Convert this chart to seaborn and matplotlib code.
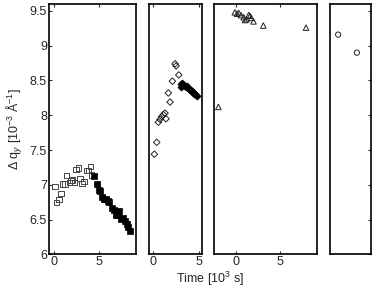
import numpy as np
import pandas as pd
import seaborn as sns
import matplotlib.pyplot as plt

# panel 1: squares (open = growth, filled = decay)
sq_open_t = [0.11, 0.3, 0.56, 0.78, 0.96, 1.22, 1.41, 1.7, 1.89, 2.07, 2.26, 2.44, 2.7, 2.89, 3.1, 3.33, 3.63, 3.85, 4.04, 4.19]
sq_open_q = [6.98, 6.74, 6.79, 6.87, 7.01, 7.01, 7.13, 7.03, 7.06, 7.07, 7.03, 7.22, 7.24, 7.09, 7.02, 7.05, 7.2, 7.2, 7.26, 7.14]
sq_fill_t = [4.48, 4.74, 4.96, 5.15, 5.33, 5.56, 5.78, 5.96, 6.15, 6.41, 6.67, 6.85, 7.07, 7.26, 7.48, 7.7, 7.89, 8.07, 8.26, 8.44]
sq_fill_q = [7.13, 7.01, 6.93, 6.91, 6.82, 6.8, 6.79, 6.77, 6.75, 6.66, 6.64, 6.56, 6.57, 6.62, 6.51, 6.52, 6.48, 6.43, 6.39, 6.33]

# panel 2: diamonds
di_open_t = [0.11, 0.37, 0.55, 0.73, 0.91, 1.09, 1.27, 1.38, 1.63, 1.82, 2.07, 2.36, 2.47, 2.76]
di_open_q = [7.44, 7.61, 7.9, 7.94, 7.98, 8.01, 8.03, 7.95, 8.32, 8.19, 8.49, 8.74, 8.71, 8.58]
di_fill_t = [3.0, 3.05, 3.15, 3.25, 3.35, 3.45, 3.55, 3.65, 3.75, 3.85, 3.95, 4.05, 4.15, 4.25, 4.35, 4.45, 4.55, 4.65, 4.75]
di_fill_q = [8.45, 8.41, 8.46, 8.44, 8.43, 8.42, 8.41, 8.42, 8.39, 8.38, 8.37, 8.36, 8.35, 8.34, 8.33, 8.31, 8.3, 8.29, 8.28]

# panel 3: triangles
tr_t = [-1.95, -0.1, 0.15, 0.35, 0.6, 0.9, 1.05, 1.2, 1.45, 1.6, 1.75, 2.0, 3.1, 7.9]
tr_q = [8.12, 9.48, 9.46, 9.47, 9.44, 9.41, 9.37, 9.38, 9.44, 9.43, 9.4, 9.35, 9.29, 9.26]

# panel 4: circles
ci_t = [0.2, 0.66]
ci_q = [9.16, 8.9]

y_ticks = [6, 6.5, 7, 7.5, 8, 8.5, 9, 9.5]
y_labels = ["6", "6.5", "7", "7.5", "8", "8.5", "9", "9.5"]

sns.set_theme(style="white")
plt.rcParams["font.family"] = ["Liberation Sans", "DejaVu Sans"]
plt.rcParams["mathtext.fontset"] = "custom"
plt.rcParams["mathtext.rm"] = "Liberation Sans"
plt.rcParams["mathtext.it"] = "Liberation Sans:italic"

W, H = 374, 292
fig = plt.figure(figsize=(W / 100, H / 100), dpi=100)


def box(x0, x1):
    return [x0 / W, 37.7 / H, (x1 - x0) / W, (288 - 37.7) / H]


# background axes carries the shared x label
bg = fig.add_axes([49 / W, 37.7 / H, (371 - 49) / W, (288 - 37.7) / H])
bg.set_xticks([])
bg.set_yticks([])
for s in bg.spines.values():
    s.set_visible(False)
bg.patch.set_alpha(0)
bg.set_xlabel(r"Time [10$^{3}$ s]", fontsize=9, labelpad=11)

ax1 = fig.add_axes(box(49, 136))
ax2 = fig.add_axes(box(149, 201.7))
ax3 = fig.add_axes(box(214, 316.7))
ax4 = fig.add_axes(box(330, 370.7))

kw_open = dict(facecolor="none", linewidth=0.7, legend=False)
sns.scatterplot(x=sq_open_t, y=sq_open_q, ax=ax1, marker="s", s=14, edgecolor="#444444", **kw_open)
sns.scatterplot(x=sq_fill_t, y=sq_fill_q, ax=ax1, marker="s", s=16, color="black", edgecolor="black", linewidth=0.5, legend=False)
sns.scatterplot(x=di_open_t, y=di_open_q, ax=ax2, marker="D", s=11, edgecolor="#222222", **kw_open)
sns.scatterplot(x=di_fill_t, y=di_fill_q, ax=ax2, marker="D", s=13, color="black", edgecolor="black", linewidth=0.5, legend=False)
sns.scatterplot(x=tr_t, y=tr_q, ax=ax3, marker="^", s=16, edgecolor="#222222", **kw_open)
sns.scatterplot(x=ci_t, y=ci_q, ax=ax4, marker="o", s=14, edgecolor="#222222", **kw_open)

limits = [(-0.55, 9.1), (-0.47, 5.25), (-2.44, 9.1), (0, 1)]
for ax, xl in zip([ax1, ax2, ax3, ax4], limits):
    ax.set_xlabel("")
    ax.set_ylabel("")
    for s in ax.spines.values():
        s.set_color("black")
        s.set_linewidth(1.2)
    ax.tick_params(direction="in", length=2.5, width=0.8, labelsize=9, pad=1.5,
                   top=True, bottom=True, left=False, right=False,
                   labelleft=False, labelbottom=True)
    ax.set_xticks([0, 5])
    ax.set_xticklabels(["0", "5"])

ax1.set_yticks(y_ticks)
ax1.set_yticklabels(y_labels)
ax1.tick_params(left=True, labelleft=True)
ax1.set_ylabel("Δ q$_y$ [10$^{-3}$ Å$^{-1}$]", fontsize=9, labelpad=3)

for ax in [ax2, ax3]:
    ax.set_yticks([])

ax4.set_xticks([])
ax4.set_yticks(y_ticks)
ax4.tick_params(right=True, labelright=False, left=False, labelleft=False)

# limits last, so tick setting cannot widen them
for ax, xl in zip([ax1, ax2, ax3, ax4], limits):
    ax.set_xlim(*xl)
    ax.set_ylim(6, 9.6)

fig.savefig("out.png", dpi=100)
